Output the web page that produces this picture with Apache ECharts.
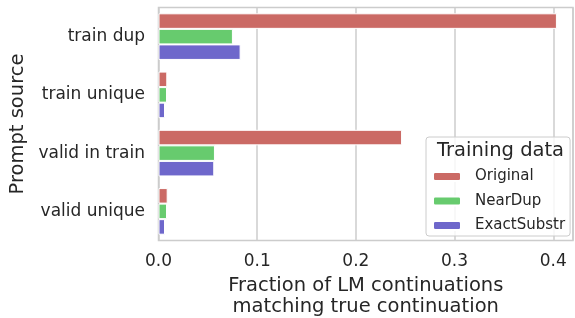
<!DOCTYPE html>
<html>
<head>
<meta charset="utf-8">
<script src="https://cdn.jsdelivr.net/npm/echarts@6/dist/echarts.min.js"></script>
<style>
	html, body { margin: 0; padding: 0; background: #fff; }
	#main { width: 575px; height: 318px; }
</style>
</head>
<body>
<div id="main"></div>
<script>
	// data
	var categories = [ 'train dup', 'train unique', 'valid in train', 'valid unique' ];
	var seriesNames = [ 'Original', 'NearDup', 'ExactSubstr' ];
	var original = [ 0.4037, 0.0089, 0.2468, 0.0093 ];
	var nearDup = [ 0.0754, 0.0086, 0.0572, 0.0086 ];
	var exactSubstr = [ 0.0832, 0.0066, 0.0565, 0.0066 ];
	var xTicks = [ 0, 0.1, 0.2, 0.3, 0.4 ];

	var font = 'DejaVu Sans';
	var colors = [ '#cb6a65', '#67cb6e', '#6e67cb' ];
	var values = [ original, nearDup, exactSubstr ];

	var myChart = echarts.init(document.getElementById('main'));

	var series = [];
	for (var i = 0; i < seriesNames.length; i++) {
		series.push({
			name : seriesNames[i],
			type : 'bar',
			data : values[i],
			barGap : '0%',
			barCategoryGap : '20%',
			itemStyle : {
				color : colors[i],
				borderColor : '#fff',
				borderWidth : 1
			}
		});
	}

	var option = {
		animation : false,
		backgroundColor : '#fff',
		color : colors,
		textStyle : { fontFamily : font },
		grid : {
			left : 158.5,
			right : 2,
			top : 7.5,
			bottom : 77.5,
			outerBoundsMode : 'none',
			containLabel : false,
			show : true,
			borderColor : '#cccccc',
			borderWidth : 1.5,
			backgroundColor : 'transparent'
		},
		xAxis : {
			type : 'value',
			min : 0,
			max : 0.42,
			interval : 0.1,
			axisLine : { show : false },
			axisTick : { show : false },
			splitLine : { show : true, lineStyle : { color : '#cccccc', width : 1.5 } },
			axisLabel : {
				color : '#262626',
				fontSize : 17,
				fontFamily : font,
				margin : 13,
				formatter : function(v) {
					for (var k = 0; k < xTicks.length; k++) {
						if (Math.abs(v - xTicks[k]) < 1e-9) return v.toFixed(1);
					}
					return '';
				}
			},
			name : 'Fraction of LM continuations\nmatching true continuation',
			nameLocation : 'middle',
			nameGap : 33,
			nameTextStyle : { color : '#262626', fontSize : 19.5, fontFamily : font, lineHeight : 21 }
		},
		yAxis : {
			type : 'category',
			data : categories,
			inverse : true,
			axisLine : { show : false },
			axisTick : { show : false },
			splitLine : { show : false },
			axisLabel : { color : '#262626', fontSize : 17, fontFamily : font, margin : 13.5 },
			name : 'Prompt source',
			nameLocation : 'middle',
			nameRotate : 90,
			nameGap : 130.5,
			nameTextStyle : { color : '#262626', fontSize : 19.5, fontFamily : font }
		},
		legend : {
			orient : 'vertical',
			left : 426,
			top : 137,
			padding : [ 32, 5, 3, 6 ],
			itemWidth : 28,
			itemHeight : 9,
			itemGap : 9.5,
			backgroundColor : 'rgba(255,255,255,0.8)',
			borderColor : '#cccccc',
			borderWidth : 1,
			borderRadius : 3,
			data : seriesNames,
			textStyle : { color : '#262626', fontSize : 15, fontFamily : font, padding : [ 0, 0, 0, 9 ] }
		},
		graphic : [ {
			type : 'text',
			left : 437,
			top : 141,
			z : 100,
			style : { text : 'Training data', fill : '#262626', font : '19.5px "DejaVu Sans"' }
		} ],
		series : series
	};

	myChart.setOption(option);
</script>
</body>
</html>
